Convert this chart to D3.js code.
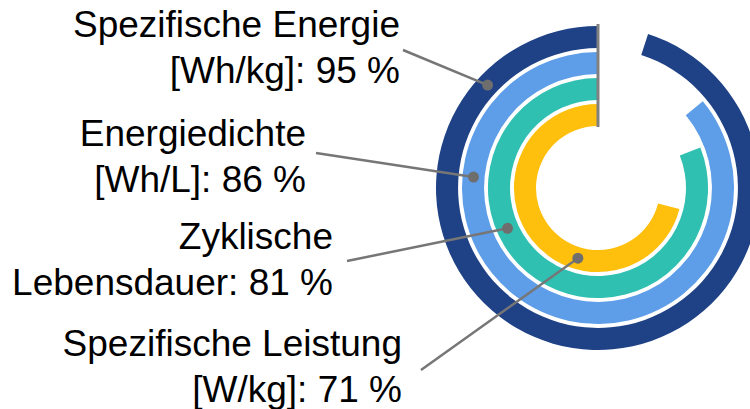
<!DOCTYPE html>
<html>
<head>
<meta charset="utf-8">
<script src="https://cdn.jsdelivr.net/npm/d3@7"></script>
<style>
  html, body { margin: 0; padding: 0; background: #fff; }
  svg { display: block; }
  text { font-family: "Liberation Sans", Arial, Helvetica, sans-serif; fill: #000; }
</style>
</head>
<body>
<svg id="chart" width="750" height="409"></svg>
<script>
// Data
const categories = ["Spezifische Energie", "Energiedichte", "Zyklische Lebensdauer", "Spezifische Leistung"];
const values = [95, 86, 81, 71];
const labelLines = [
  ["Spezifische Energie", "[Wh/kg]: 95 %"],
  ["Energiedichte", "[Wh/L]: 86 %"],
  ["Zyklische", "Lebensdauer: 81 %"],
  ["Spezifische Leistung", "[W/kg]: 71 %"]
];
const colors = ["#1F4185", "#5E9DE8", "#2FC0B1", "#FFBF0D"];

// Layout
const W = 750, H = 409;
const cx = 598, cy = 188;
const svg = d3.select("#chart");

const rScale = d3.scaleBand()
  .domain(categories.slice().reverse())
  .range([62, 162])
  .paddingInner(0.15);

const aScale = d3.scaleLinear().domain([0, 100]).range([0, -2 * Math.PI]);

const g = svg.append("g").attr("transform", `translate(${cx},${cy})`);

const arc = d3.arc()
  .innerRadius(d => rScale(d.cat))
  .outerRadius(d => rScale(d.cat) + rScale.bandwidth())
  .startAngle(0)
  .endAngle(d => aScale(d.value));

const data = categories.map((c, i) => ({ cat: c, value: values[i], color: colors[i], lines: labelLines[i] }));

g.selectAll("path.ring")
  .data(data)
  .join("path")
  .attr("class", "ring")
  .attr("d", arc)
  .attr("fill", d => d.color);

// vertical start line
g.append("line")
  .attr("x1", 0).attr("x2", 0)
  .attr("y1", -(rScale(categories[0]) + rScale.bandwidth() + 2))
  .attr("y2", -(rScale(categories[3]) - 1))
  .attr("stroke", "#808080")
  .attr("stroke-width", 3);

// Labels & leaders (label anchor positions)
const labelRight = [400, 306, 333, 402];
const labelBase = [37, 146, 249, 356];
const lineGap = 46;
const leaderStart = [[403, 50], [316, 153], [347, 261], [421, 370]];
const dotAngle = [-47, -85, -114, -164]; // degrees, clockwise from top

data.forEach((d, i) => {
  const rm = rScale(d.cat) + rScale.bandwidth() / 2;
  const a = dotAngle[i] * Math.PI / 180;
  const dx = cx + rm * Math.sin(a), dy = cy - rm * Math.cos(a);
  svg.append("line")
    .attr("x1", leaderStart[i][0]).attr("y1", leaderStart[i][1])
    .attr("x2", dx).attr("y2", dy)
    .attr("stroke", "#767676").attr("stroke-width", 2.5);
  svg.append("circle")
    .attr("cx", dx).attr("cy", dy).attr("r", 5.5)
    .attr("fill", "#6E6E6E");
  const t = svg.append("text")
    .attr("text-anchor", "end")
    .attr("font-size", 37);
  d.lines.forEach((ln, j) => {
    t.append("tspan")
      .attr("x", labelRight[i])
      .attr("y", labelBase[i] + j * lineGap)
      .text(ln);
  });
});
</script>
</body>
</html>
